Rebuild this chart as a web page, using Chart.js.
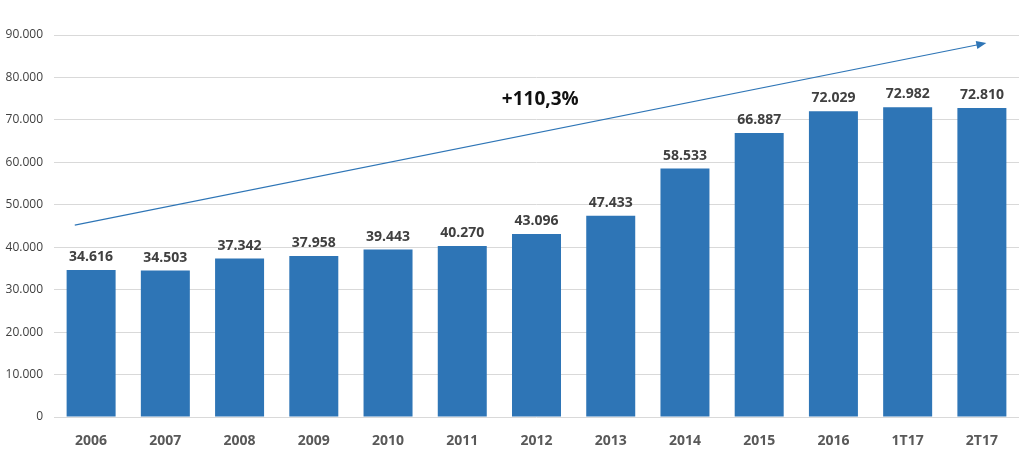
<!DOCTYPE html>
<html>
<head>
<meta charset="utf-8">
<script src="https://cdn.jsdelivr.net/npm/chart.js@4"></script>
<style>
  html, body { margin: 0; padding: 0; background: #fff; }
  #wrap { width: 1024px; height: 452px; }
</style>
</head>
<body>
<div id="wrap"><canvas id="chart"></canvas></div>
<script>
const years = ["2006", "2007", "2008", "2009", "2010", "2011", "2012", "2013", "2014", "2015", "2016", "1T17", "2T17"];
const values = [34616, 34503, 37342, 37958, 39443, 40270, 43096, 47433, 58533, 66887, 72029, 72982, 72810];
const yTicks = [0, 10000, 20000, 30000, 40000, 50000, 60000, 70000, 80000, 90000];
// trend arrow, in category index / value units
const arrowFrom = { x: -0.22, y: 45200 };
const arrowTo = { x: 12.06, y: 88100 };
const growthLabel = "+110,3%";
const growthAt = { x: 6.05, y: 74700 };

function fmt(v) {
  return v === 0 ? "0" : v.toLocaleString("de-DE");
}

const FONT = "'Open Sans', 'Noto Sans', sans-serif";

const extras = {
  id: "extras",
  afterDatasetsDraw(chart) {
    const ctx = chart.ctx;
    const xs = chart.scales.x;
    const ys = chart.scales.y;
    const meta = chart.getDatasetMeta(0);
    ctx.save();
    // value labels
    ctx.font = "bold 14px " + FONT;
    ctx.fillStyle = "#404040";
    ctx.textAlign = "center";
    ctx.textBaseline = "alphabetic";
    meta.data.forEach((bar, i) => {
      ctx.fillText(fmt(values[i]), bar.x, bar.y - 9);
    });
    // arrow
    const x1 = xs.getPixelForValue(arrowFrom.x), y1 = ys.getPixelForValue(arrowFrom.y);
    const x2 = xs.getPixelForValue(arrowTo.x), y2 = ys.getPixelForValue(arrowTo.y);
    const ang = Math.atan2(y2 - y1, x2 - x1);
    ctx.strokeStyle = "#2E75B6";
    ctx.fillStyle = "#2E75B6";
    ctx.lineWidth = 1.2;
    ctx.beginPath();
    ctx.moveTo(x1, y1);
    ctx.lineTo(x2 - 6 * Math.cos(ang), y2 - 6 * Math.sin(ang));
    ctx.stroke();
    ctx.beginPath();
    ctx.moveTo(x2, y2);
    ctx.lineTo(x2 - 10 * Math.cos(ang) + 4 * Math.sin(ang), y2 - 10 * Math.sin(ang) - 4 * Math.cos(ang));
    ctx.lineTo(x2 - 10 * Math.cos(ang) - 4 * Math.sin(ang), y2 - 10 * Math.sin(ang) + 4 * Math.cos(ang));
    ctx.closePath();
    ctx.fill();
    // growth text
    ctx.font = "bold 19px " + FONT;
    ctx.fillStyle = "#111";
    ctx.textBaseline = "middle";
    ctx.fillText(growthLabel, xs.getPixelForValue(growthAt.x), ys.getPixelForValue(growthAt.y));
    ctx.restore();
  }
};

new Chart(document.getElementById("chart"), {
  type: "bar",
  data: {
    labels: years,
    datasets: [
      {
        data: values,
        backgroundColor: "#2E75B6",
        categoryPercentage: 1,
        barPercentage: 0.66,
      },
    ],
  },
  options: {
    responsive: true,
    maintainAspectRatio: false,
    animation: false,
    layout: { padding: { top: 35, right: 5, left: 0, bottom: 0 } },
    plugins: { legend: { display: false }, tooltip: { enabled: false } },
    scales: {
      x: {
        grid: { display: false },
        border: { display: false },
        ticks: { color: "#595959", font: { family: FONT, size: 14, weight: "bold" }, padding: 8 },
        afterFit: (s) => { s.height = 35; },
      },
      y: {
        min: 0,
        max: 90000,
        afterBuildTicks: (s) => { s.ticks = yTicks.map((v) => ({ value: v })); },
        grid: { color: "#d9d9d9", drawTicks: false },
        border: { display: false },
        ticks: {
          color: "#404040",
          font: { family: FONT, size: 12 },
          padding: 11,
          callback: (v) => fmt(v),
        },
        afterFit: (s) => { s.width = 54; },
      },
    },
  },
  plugins: [extras],
});
</script>
</body>
</html>
